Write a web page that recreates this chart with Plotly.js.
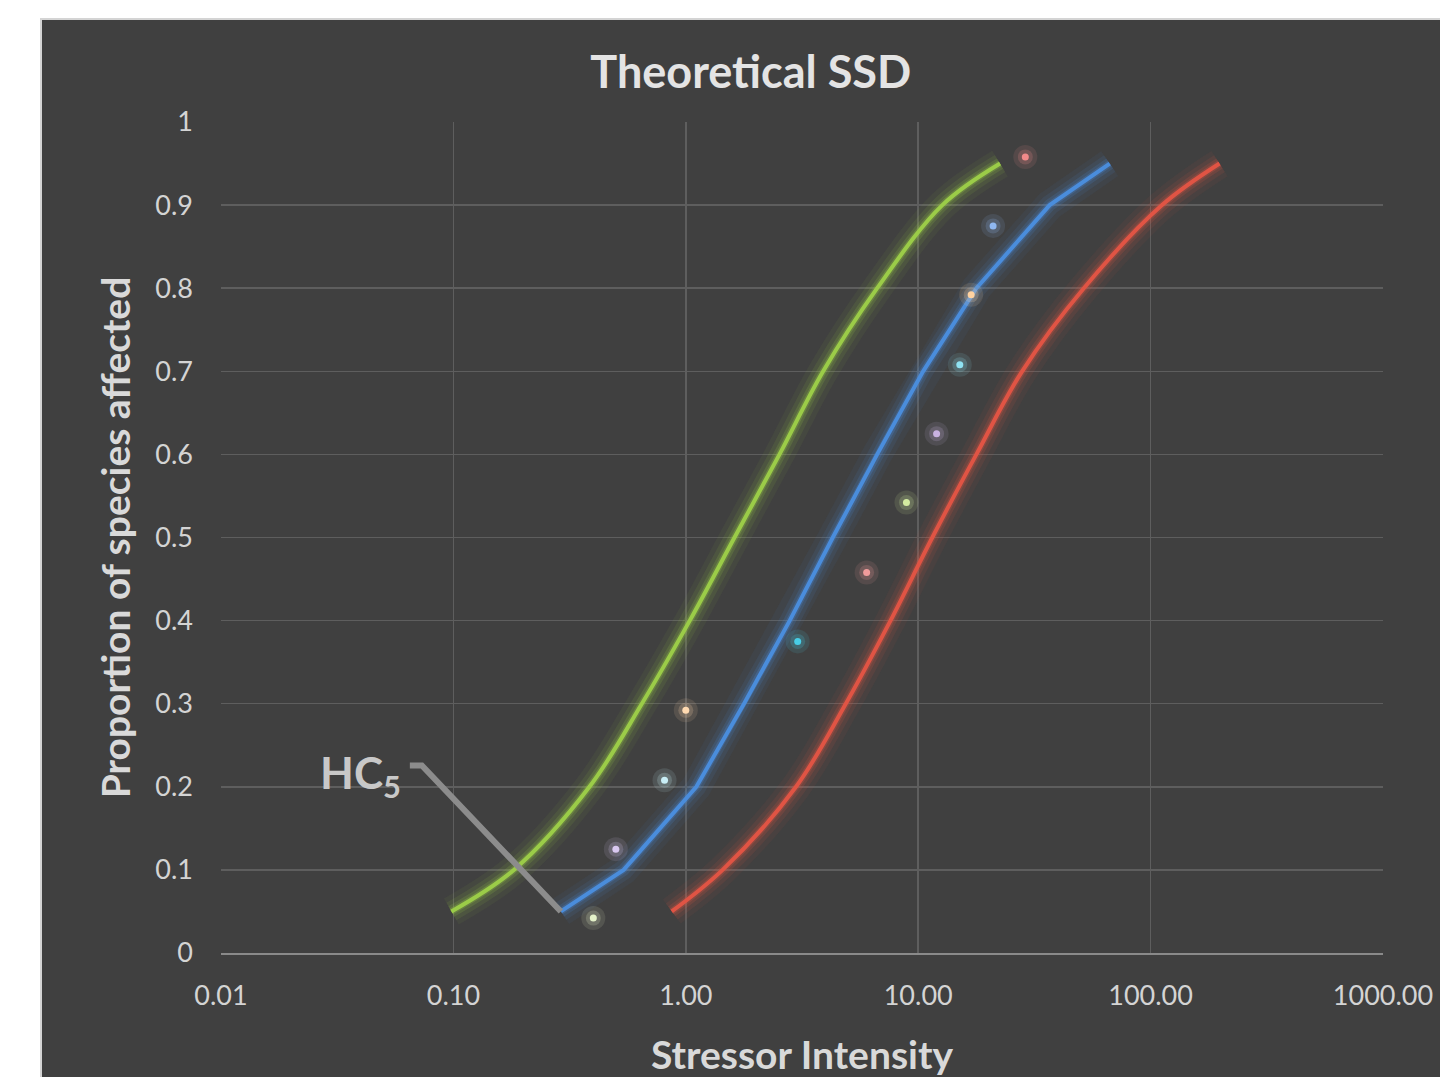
<!DOCTYPE html>
<html>
<head>
<meta charset="utf-8">
<script src="https://cdn.plot.ly/plotly-3.0.1.min.js"></script>
<style>
  html, body { margin: 0; padding: 0; background: #ffffff; width: 1440px; height: 1077px; overflow: hidden; }
  #chart { position: absolute; left: 40px; top: 18px; width: 1398px; height: 1057px;
           border-left: 2px solid #d4d4d4; border-top: 2px solid #d4d4d4; background: #404040; }
</style>
</head>
<body>
<div id="chart"></div>
<script>
// ---- data ----
const proportions = [0.05, 0.1, 0.2, 0.3, 0.4, 0.5, 0.6, 0.7, 0.8, 0.9, 0.95];
const greenX = [0.098, 0.182, 0.385, 0.647, 1.04, 1.62, 2.53, 3.9, 6.66, 12.7, 22.5];
const blueX  = [0.29, 0.54, 1.11, 1.78, 2.8, 4.29, 6.66, 10.5, 17.8, 36.8, 66.7];
const redX   = [0.87, 1.44, 2.98, 4.88, 7.6, 11.5, 17.8, 28.0, 51.6, 112, 198];

const speciesX = [0.40, 0.50, 0.81, 1.00, 3.03, 6.0, 8.9, 12.0, 15.1, 16.9, 21.0, 28.9];
const speciesY = [0.042, 0.125, 0.208, 0.292, 0.375, 0.458, 0.542, 0.625, 0.708, 0.792, 0.875, 0.958];
const speciesColors = ['#e4f2c8', '#d9c8f0', '#c8eef6', '#ffd9b0', '#48cde6', '#f29c9c',
                       '#d4eca0', '#c9b2e2', '#8fe2f2', '#ffd2a0', '#8fb8f2', '#f08a8a'];

const xTickVals = [0.01, 0.1, 1, 10, 100, 1000];
const xTickText = ['0.01', '0.10', '1.00', '10.00', '100.00', '1000.00'];
const yTickVals = [0, 0.1, 0.2, 0.3, 0.4, 0.5, 0.6, 0.7, 0.8, 0.9, 1];
const yTickText = ['0', '0.1', '0.2', '0.3', '0.4', '0.5', '0.6', '0.7', '0.8', '0.9', '1'];

const chartTitle = 'Theoretical SSD';
const xTitle = 'Stressor Intensity';
const yTitle = 'Proportion of species affected';
const hcLabel = 'HC<sub>5</sub>';

// ---- traces ----
const FONT = 'Lato, "Open Sans", "Noto Sans", sans-serif';
const series = [
  {x: greenX, color: '#9bcc48', rgb: '155,204,72', shape: 'spline'},
  {x: blueX,  color: '#4a8ddc', rgb: '74,141,220', shape: 'linear'},
  {x: redX,   color: '#e05444', rgb: '224,84,68', shape: 'spline'}
];
const traces = [];
series.forEach(s => {
  [[30, 0.06], [20, 0.10], [12, 0.16], [7, 0.25]].forEach(([w, a]) => {
    traces.push({x: s.x, y: proportions, type: 'scatter', mode: 'lines',
      line: {color: `rgba(${s.rgb},${a})`, width: w, shape: s.shape, smoothing: 1.0},
      hoverinfo: 'skip', showlegend: false});
  });
  traces.push({x: s.x, y: proportions, type: 'scatter', mode: 'lines',
    line: {color: s.color, width: 4, shape: s.shape, smoothing: 1.0}, showlegend: false});
});
traces.push({x: speciesX, y: speciesY, type: 'scatter', mode: 'markers',
  marker: {color: speciesColors, size: 24, opacity: 0.12}, hoverinfo: 'skip', showlegend: false});
traces.push({x: speciesX, y: speciesY, type: 'scatter', mode: 'markers',
  marker: {color: speciesColors, size: 15, opacity: 0.2}, hoverinfo: 'skip', showlegend: false});
traces.push({x: speciesX, y: speciesY, type: 'scatter', mode: 'markers',
  marker: {color: speciesColors, size: 7}, showlegend: false});

const layout = {
  width: 1398, height: 1057,
  paper_bgcolor: '#404040', plot_bgcolor: '#404040',
  margin: {l: 179, r: 57, t: 102, b: 124},
  showlegend: false,
  font: {family: FONT, color: '#d9d9d9'},
  title: {text: chartTitle, font: {family: FONT, size: 45, color: '#e4e4e4', weight: 'bold'},
          xref: 'container', yref: 'container', x: 0.507, y: 0.951, xanchor: 'center', yanchor: 'middle'},
  xaxis: {type: 'log', range: [-2, 3], tickvals: xTickVals, ticktext: xTickText,
          tickfont: {family: FONT, size: 27, color: '#d4d4d4'},
          showgrid: true, gridcolor: '#5e5e5e', gridwidth: 1.5,
          showline: true, linecolor: '#8a8a8a', linewidth: 2, zeroline: false,
          ticks: '', ticklabelstandoff: 18,
          title: {text: xTitle, font: {family: FONT, size: 39, color: '#d9d9d9', weight: 'bold'}, standoff: 31}},
  yaxis: {range: [0, 1], tickvals: yTickVals, ticktext: yTickText,
          tickfont: {family: FONT, size: 27, color: '#d4d4d4'},
          showgrid: true, gridcolor: '#5e5e5e', gridwidth: 1.5,
          showline: false, zeroline: false, ticks: '', ticklabelstandoff: 27,
          title: {text: yTitle, font: {family: FONT, size: 39, color: '#d9d9d9', weight: 'bold'}, standoff: 12}},
  shapes: [{
    type: 'path', xref: 'x', yref: 'y',
    xsizemode: 'pixel', ysizemode: 'pixel', xanchor: blueX[0], yanchor: proportions[0],
    path: 'M -151,146 L -139,146 L 0,0',
    line: {color: '#8c8c8c', width: 6}
  }],
  annotations: [{
    x: Math.log10(blueX[0]), y: proportions[0], xref: 'x', yref: 'y',
    text: hcLabel, showarrow: false, xanchor: 'right', yanchor: 'middle',
    xshift: -158, yshift: 136,
    font: {family: FONT, size: 44, color: '#c8c8c8', weight: 'bold'}
  }]
};

Plotly.newPlot('chart', traces, layout, {displayModeBar: false, staticPlot: true});
</script>
</body>
</html>
